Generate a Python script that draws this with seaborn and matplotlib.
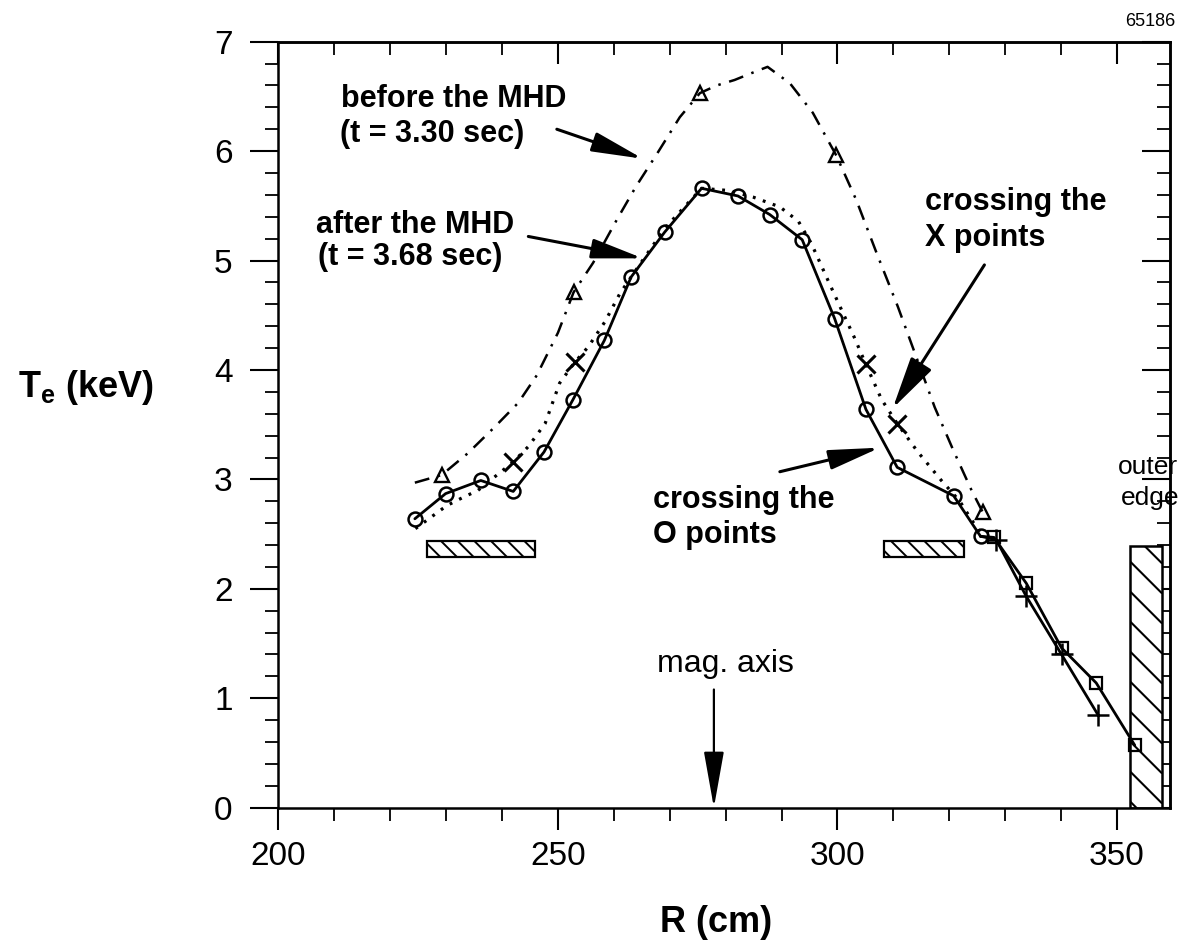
import numpy as np
import pandas as pd
import matplotlib
matplotlib.use("Agg")
import matplotlib.pyplot as plt
import seaborn as sns
from matplotlib.ticker import MultipleLocator, FixedLocator, NullFormatter

# ---------------- data ----------------
# after the MHD (t = 3.68 s) : open circles, solid line
after_R = [224.4, 229.9, 236.2, 242.0, 247.5, 252.7, 258.3, 263.1, 269.1, 275.7,
           282.2, 287.9, 293.7, 299.5, 305.1, 310.7, 320.8, 325.6]
after_T = [2.64, 2.87, 2.99, 2.89, 3.25, 3.73, 4.27, 4.85, 5.26, 5.66,
           5.59, 5.42, 5.19, 4.47, 3.64, 3.11, 2.85, 2.48]

# outer channels: plus markers and square markers (solid lines)
plus_R = [328.4, 333.8, 340.1, 346.6]
plus_T = [2.45, 1.93, 1.40, 0.85]
square_R = [328.0, 333.8, 340.1, 346.3, 353.2]
square_T = [2.47, 2.05, 1.46, 1.14, 0.57]

# before the MHD (t = 3.30 s) : dash-dot profile and triangle points
before_R = [224.4, 229.2, 233.9, 238.7, 242.9, 246.2, 250.0, 252.8, 256.3, 260.5,
            264.0, 267.9, 271.8, 275.4, 278.4, 281.6, 284.5, 287.5, 291.5, 295.6,
            299.8, 303.4, 307.0, 310.8, 314.1, 317.4, 320.7, 324.0, 326.0]
before_T = [2.97, 3.04, 3.24, 3.48, 3.70, 3.95, 4.34, 4.71, 4.98, 5.37,
            5.68, 5.99, 6.31, 6.53, 6.60, 6.65, 6.71, 6.77, 6.62, 6.35,
            5.96, 5.55, 5.07, 4.58, 4.12, 3.66, 3.27, 2.90, 2.70]
tri_R = [229.2, 252.8, 275.4, 299.8, 326.0]
tri_T = [3.04, 4.71, 6.53, 5.96, 2.70]

# crossing the X points : dotted profile and x markers
xline_R = [224.5, 227.7, 230.1, 232.8, 235.7, 242.0, 244.7, 247.7, 250.3, 253.0,
           255.4, 258.4, 261.1, 263.5, 269.2, 275.7, 280.5, 284.9, 289.7, 293.0,
           295.3, 298.3, 301.0, 303.0, 305.1, 307.9, 310.7, 314.4, 318.6, 321.9,
           324.0, 326.0]
xline_T = [2.55, 2.67, 2.76, 2.83, 2.90, 3.16, 3.30, 3.51, 3.88, 4.07,
           4.21, 4.44, 4.70, 4.88, 5.30, 5.66, 5.64, 5.58, 5.49, 5.36,
           5.16, 4.82, 4.52, 4.30, 4.05, 3.73, 3.51, 3.25, 2.99, 2.80,
           2.63, 2.48]
xmark_R = [242.0, 253.0, 305.1, 310.7]
xmark_T = [3.16, 4.07, 4.05, 3.51]

# hatched regions (R ranges, T ranges)
chan_R0 = [226.5, 308.4]
chan_R1 = [245.9, 322.6]
chan_T0 = 2.29
chan_T1 = 2.44
edge_R0 = 352.3
edge_R1 = 358.0
edge_T1 = 2.39

mag_axis_R = 277.9

x_major = [200, 250, 300, 350]
y_major = [0, 1, 2, 3, 4, 5, 6, 7]
x_labels = ["200", "250", "300", "350"]
y_labels = ["0", "1", "2", "3", "4", "5", "6", "7"]

# ---------------- style ----------------
sns.set_style("ticks")
plt.rcParams['font.family'] = ['Liberation Sans', 'DejaVu Sans']
plt.rcParams['mathtext.fontset'] = 'custom'
plt.rcParams['mathtext.rm'] = 'Liberation Sans'
plt.rcParams['mathtext.bf'] = 'Liberation Sans:bold'
plt.rcParams['hatch.linewidth'] = 1.4
plt.rcParams['hatch.color'] = 'black'
for key in ['text.color', 'axes.labelcolor', 'xtick.color', 'ytick.color', 'axes.edgecolor']:
    plt.rcParams[key] = 'black'

K = 'black'
fig = plt.figure(figsize=(11.78, 9.43), dpi=100)
ax = fig.add_axes([0.2364, 0.1435, 0.7568, 0.8123])
ax.set_xlim(200, 359.5)
ax.set_ylim(0, 7)

# ---------------- hatched regions ----------------
ax.bar(chan_R0, [chan_T1 - chan_T0] * len(chan_R0),
       width=[b - a for a, b in zip(chan_R0, chan_R1)], bottom=chan_T0,
       align='edge', facecolor='white', edgecolor=K, lw=1.6, hatch='\\\\', zorder=1.2)
edge_bars = ax.bar([edge_R0], [edge_T1], width=[edge_R1 - edge_R0], bottom=0,
                   align='edge', facecolor='white', edgecolor=K, lw=1.8, zorder=1.2)
edge_patch = edge_bars.patches[0]
# sparse 45-degree hatching for the outer-edge box
p0 = ax.transData.transform((0, 0))
p1 = ax.transData.transform((1, 1))
slope = (p1[0] - p0[0]) / (p1[1] - p0[1])       # dT per dR for a 45 deg line
spacing = 30.0 / (p1[1] - p0[1])               # 30 px vertical spacing
w = edge_R1 - edge_R0
t = 0.06
while t < edge_T1 + w * slope + spacing:
    ln, = ax.plot([edge_R0, edge_R1], [t, t - w * slope], color=K, lw=1.5, zorder=1.3)
    ln.set_clip_path(edge_patch)
    t += spacing

# ---------------- lines ----------------
sns.lineplot(x=before_R, y=before_T, sort=False, estimator=None, ax=ax,
             color=K, lw=1.8, linestyle=(0, (6, 3.5, 1, 3.5)))
sns.lineplot(x=tri_R, y=tri_T, sort=False, estimator=None, ax=ax,
             color=K, linestyle='none', marker='^', ms=10, mfc='none', mec=K, mew=1.7)

sns.lineplot(x=xline_R, y=xline_T, sort=False, estimator=None, ax=ax,
             color=K, lw=2.3, linestyle=(0, (0.9, 2.4)))
sns.lineplot(x=xmark_R, y=xmark_T, sort=False, estimator=None, ax=ax,
             color=K, linestyle='none', marker='x', ms=13, mec=K, mew=2.2)

sns.lineplot(x=after_R, y=after_T, sort=False, estimator=None, ax=ax,
             color=K, lw=2.0, marker='o', ms=10, mfc='none', mec=K, mew=1.8)

sns.lineplot(x=[after_R[-1]] + plus_R, y=[after_T[-1]] + plus_T, sort=False,
             estimator=None, ax=ax, color=K, lw=2.0)
sns.lineplot(x=plus_R, y=plus_T, sort=False, estimator=None, ax=ax,
             color=K, linestyle='none', marker='+', ms=16, mec=K, mew=1.8)
sns.lineplot(x=[after_R[-1]] + square_R, y=[after_T[-1]] + square_T, sort=False,
             estimator=None, ax=ax, color=K, lw=2.0)
sns.lineplot(x=square_R, y=square_T, sort=False, estimator=None, ax=ax,
             color=K, linestyle='none', marker='s', ms=9, mfc='none', mec=K, mew=1.6)

# ---------------- annotations ----------------
bold = dict(fontsize=22, fontweight='bold', ha='left', va='baseline', zorder=6)
norm = dict(fontsize=19, ha='left', va='baseline', zorder=6)
ax.text(211.1, 6.406, "before the MHD", **bold)
ax.text(211.0, 6.086, "(t = 3.30 sec)", **bold)
ax.text(206.8, 5.249, "after the MHD", **bold)
ax.text(207.1, 4.959, "(t = 3.68 sec)", **bold)
ax.text(315.6, 5.463, "crossing the", **bold)
ax.text(315.6, 5.134, "X points", **bold)
ax.text(267.0, 2.736, "crossing the", **bold)
ax.text(267.0, 2.416, "O points", **bold)
ax.text(350.1, 3.05, "outer", **norm)
ax.text(350.7, 2.77, "edge", **norm)
ax.text(280.0, 1.24, "mag. axis", fontsize=23, ha='center', va='baseline', zorder=6)

arrow = dict(arrowstyle='-|>,head_length=1.25,head_width=0.24', color=K, lw=2.2,
             shrinkA=0, shrinkB=0, mutation_scale=25)
ax.annotate('', xy=(265.2, 5.93), xytext=(249.8, 6.20), arrowprops=arrow, zorder=6)
ax.annotate('', xy=(265.2, 5.02), xytext=(244.7, 5.22), arrowprops=arrow, zorder=6)
ax.annotate('', xy=(309.9, 3.65), xytext=(326.3, 4.96),
            arrowprops=dict(arrow, arrowstyle='-|>,head_length=1.3,head_width=0.3'), zorder=6)
ax.annotate('', xy=(307.6, 3.29), xytext=(289.7, 3.07), arrowprops=arrow, zorder=6)
ax.annotate('', xy=(mag_axis_R, 0), xytext=(mag_axis_R, 1.08),
            arrowprops=dict(arrowstyle='-|>,head_length=1.4,head_width=0.25', color=K,
                            lw=1.6, shrinkA=0, shrinkB=0, mutation_scale=25), zorder=6)

fig.text(0.998, 0.977, "65186", ha='right', va='center', fontsize=13)

# ---------------- axes, ticks ----------------
for sp in ax.spines.values():
    sp.set_linewidth(1.8)
    sp.set_color(K)

ax.xaxis.set_major_locator(FixedLocator(x_major))
ax.set_xticklabels(x_labels)
ax.xaxis.set_minor_locator(MultipleLocator(10))
ax.yaxis.set_major_locator(FixedLocator(y_major))
ax.set_yticklabels(y_labels)
ax.yaxis.set_minor_locator(MultipleLocator(0.2))

ax.tick_params(which='both', direction='out', colors=K, width=1.5, labelsize=24)
ax.tick_params(axis='x', which='major', length=16, pad=8)
ax.tick_params(axis='y', which='major', length=20, pad=13)
ax.tick_params(which='minor', length=9.5, width=1.3)

secx = ax.secondary_xaxis('top')
secx.xaxis.set_major_locator(FixedLocator(x_major))
secx.xaxis.set_minor_locator(MultipleLocator(10))
secx.xaxis.set_major_formatter(NullFormatter())
secx.tick_params(which='major', direction='in', length=16, width=1.5, colors=K)
secx.tick_params(which='minor', direction='in', length=9.5, width=1.3, colors=K)
secy = ax.secondary_yaxis('right')
secy.yaxis.set_major_locator(FixedLocator(y_major))
secy.yaxis.set_minor_locator(MultipleLocator(0.2))
secy.yaxis.set_major_formatter(NullFormatter())
secy.tick_params(which='major', direction='in', length=20, width=1.5, colors=K)
secy.tick_params(which='minor', direction='in', length=9.5, width=1.3, colors=K)
for s in (secx, secy):
    for sp in s.spines.values():
        sp.set_linewidth(1.8)
        sp.set_color(K)

ax.set_xlabel("R (cm)", fontsize=26, fontweight='bold')
ax.xaxis.set_label_coords(0.4907, -0.127)
ax.set_ylabel("T$_\\mathbf{e}$ (keV)", fontsize=26, fontweight='bold',
              rotation=0, ha='center', va='center')
ax.yaxis.set_label_coords(-0.2154, 0.549)

fig.savefig("out.png", dpi=100)
